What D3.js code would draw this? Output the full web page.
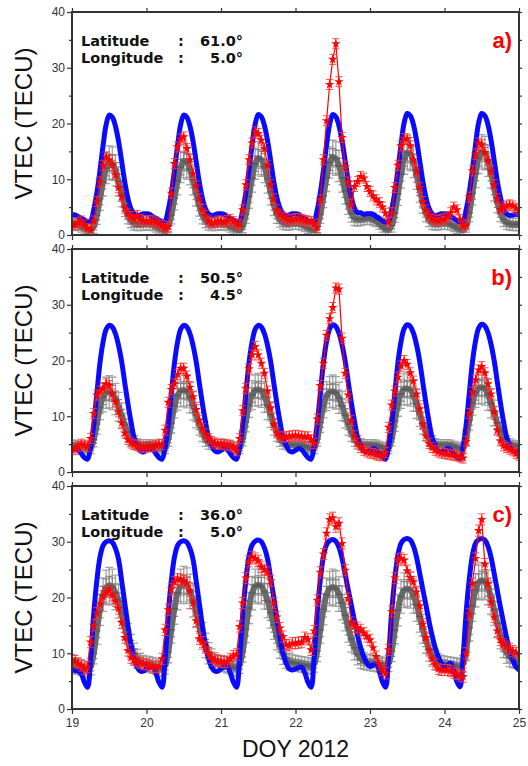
<!DOCTYPE html>
<html>
<head>
<meta charset="utf-8">
<script src="https://cdn.jsdelivr.net/npm/d3@7"></script>
<style>
  body { margin: 0; background: #fff; }
  svg { display: block; font-family: "Liberation Sans", Arial, Helvetica, sans-serif; }
</style>
</head>
<body>
<svg id="chart" width="528" height="766"></svg>
<script>
// ---- Axis ticks -----------------------------------------------------------
const dayTicks = [19, 20, 21, 22, 23, 24, 25];
const vtecTicks = [0, 10, 20, 30, 40];
const vtecMinorTicks = [5, 15, 25, 35];
const vtecRightTicks = [0, 5, 10, 15, 20, 25, 30, 35, 40];

// ---- Station descriptions -------------------------------------------------
const panelLabels = ["a)", "b)", "c)"];
const latitudes = ["61.0°", "50.5°", "36.0°"];
const longitudes = ["5.0°", "4.5°", "5.0°"];

// ---- Hourly values, DOY 19.00 ... 25.00 (145 samples, one per hour) -------
// Model VTEC (blue)
const modelA = [
  3.6, 3.6, 3.3, 3.0, 2.7, 2.4, 2.5, 4.5, 7.5, 11.5, 16.0, 19.8, 21.5, 21.1, 19.5, 16.8, 13.2, 9.5, 6.6, 4.7, 3.8, 3.5, 3.6, 3.8,
  3.8, 3.7, 3.3, 3.0, 2.7, 2.4, 2.5, 4.5, 7.5, 11.5, 16.0, 19.8, 21.5, 21.1, 19.5, 16.8, 13.2, 9.5, 6.6, 4.7, 3.8, 3.5, 3.6, 3.8,
  3.8, 3.7, 3.3, 3.0, 2.7, 2.4, 2.5, 4.5, 7.6, 11.6, 16.1, 19.9, 21.6, 21.2, 19.6, 16.9, 13.3, 9.6, 6.7, 4.8, 3.8, 3.5, 3.6, 3.8,
  3.8, 3.7, 3.3, 3.0, 2.6, 2.3, 2.5, 4.5, 7.6, 11.6, 16.1, 19.9, 21.6, 21.2, 19.6, 16.9, 13.3, 9.6, 6.7, 4.8, 4.0, 4.0, 3.7, 3.8,
  3.8, 3.7, 3.3, 3.0, 2.6, 2.3, 2.5, 4.6, 7.7, 11.7, 16.2, 20.1, 21.8, 21.4, 19.8, 17.0, 13.4, 9.7, 6.8, 4.8, 3.8, 3.5, 3.6, 3.8,
  3.8, 3.7, 3.3, 3.0, 2.6, 2.3, 2.5, 4.6, 7.7, 11.7, 16.2, 20.1, 21.8, 21.4, 19.8, 17.0, 13.4, 9.7, 6.8, 4.8, 3.8, 3.5, 3.6, 3.7,
  3.6
];
const modelB = [
  4.0, 4.1, 3.9, 3.3, 2.6, 2.3, 4.5, 8.5, 14.0, 19.5, 23.3, 25.6, 26.3, 26.0, 24.8, 22.7, 19.8, 16.0, 12.3, 9.0, 6.2, 4.8, 3.8, 3.6,
  3.9, 4.2, 4.0, 3.3, 2.6, 2.3, 4.5, 8.5, 14.0, 19.5, 23.3, 25.6, 26.3, 26.0, 24.8, 22.7, 19.8, 16.0, 12.3, 9.0, 6.2, 4.8, 3.8, 3.6,
  3.9, 4.2, 4.0, 3.3, 2.6, 2.3, 4.5, 8.5, 14.0, 19.5, 23.3, 25.6, 26.3, 26.0, 24.8, 22.7, 19.8, 16.0, 12.3, 9.0, 6.2, 4.8, 3.8, 3.6,
  3.9, 4.2, 4.0, 3.3, 2.6, 2.3, 4.6, 8.6, 14.1, 19.6, 23.4, 25.7, 26.4, 26.1, 24.9, 22.8, 19.9, 16.1, 12.4, 9.1, 6.2, 4.8, 3.8, 3.6,
  3.9, 4.2, 4.0, 3.3, 2.6, 2.3, 4.6, 8.6, 14.1, 19.6, 23.4, 25.7, 26.4, 26.1, 24.9, 22.8, 19.9, 16.1, 12.4, 9.1, 6.2, 4.8, 3.8, 3.6,
  3.9, 4.2, 4.0, 3.3, 2.6, 2.3, 4.6, 8.6, 14.2, 19.7, 23.5, 25.8, 26.5, 26.2, 25.0, 22.9, 20.0, 16.2, 12.5, 9.1, 6.3, 4.8, 3.8, 3.6,
  3.8
];
const modelC = [
  7.0, 6.9, 6.8, 6.3, 4.8, 3.9, 9.0, 17.0, 23.0, 27.2, 29.3, 30.0, 30.2, 29.9, 28.8, 26.8, 23.0, 19.0, 15.0, 11.5, 9.0, 7.5, 6.8, 6.8,
  7.2, 7.5, 7.6, 6.5, 4.8, 3.9, 9.0, 17.0, 23.0, 27.2, 29.3, 30.0, 30.2, 29.9, 28.8, 26.8, 23.0, 19.0, 15.0, 11.5, 9.0, 7.5, 6.8, 6.8,
  7.2, 7.5, 7.6, 6.5, 4.8, 3.9, 9.0, 17.0, 23.0, 27.3, 29.4, 30.1, 30.3, 30.0, 28.9, 26.9, 23.5, 20.0, 16.2, 12.8, 10.0, 8.2, 7.2, 7.0,
  7.2, 7.4, 7.5, 6.5, 4.8, 3.9, 9.2, 17.2, 23.2, 27.4, 29.5, 30.2, 30.4, 30.1, 29.0, 27.0, 24.2, 21.3, 18.6, 15.8, 13.2, 11.0, 9.4, 8.2,
  7.6, 7.9, 8.2, 6.8, 4.9, 3.9, 9.5, 17.5, 23.4, 27.6, 29.7, 30.4, 30.6, 30.3, 29.2, 27.2, 24.4, 21.5, 18.7, 15.8, 13.2, 11.0, 9.4, 8.2,
  7.6, 7.9, 8.2, 6.8, 4.9, 4.0, 9.5, 17.5, 23.4, 27.6, 29.7, 30.4, 30.6, 30.3, 29.2, 27.2, 24.3, 21.3, 18.3, 15.5, 12.8, 10.5, 8.8, 7.6,
  7.0
];

// Reference climatology mean (grey) and its spread by hour of day
const climA = [
  2.0, 2.0, 1.8, 1.5, 1.2, 1.0, 0.9, 1.5, 3.5, 6.5, 9.5, 12.0, 13.0, 12.8, 11.6, 9.6, 7.4, 5.2, 3.6, 2.6, 2.1, 1.9, 1.9, 2.0,
  2.0, 2.0, 1.8, 1.5, 1.2, 1.0, 0.9, 1.6, 3.6, 6.6, 9.7, 12.2, 13.3, 13.0, 11.8, 9.8, 7.5, 5.3, 3.6, 2.6, 2.1, 1.9, 1.9, 2.0,
  2.0, 2.0, 1.8, 1.5, 1.2, 1.0, 0.9, 1.6, 3.7, 6.9, 10.2, 12.8, 13.8, 13.5, 12.2, 10.1, 7.7, 5.4, 3.7, 2.7, 2.2, 2.0, 2.0, 2.1,
  2.1, 2.1, 1.9, 1.6, 1.3, 1.0, 0.9, 1.6, 3.7, 7.0, 10.3, 13.0, 14.0, 13.7, 12.4, 10.3, 7.9, 5.6, 3.9, 3.0, 2.8, 2.8, 2.9, 3.0,
  3.0, 2.8, 2.5, 2.0, 1.5, 1.1, 1.0, 1.7, 3.9, 7.4, 10.9, 13.7, 14.8, 14.5, 13.1, 10.8, 8.2, 5.8, 4.0, 2.8, 2.2, 2.0, 2.0, 2.1,
  2.1, 2.1, 1.9, 1.6, 1.3, 1.0, 0.9, 1.7, 4.0, 7.5, 11.0, 13.8, 15.0, 14.7, 13.3, 11.0, 8.4, 5.9, 4.0, 2.8, 2.2, 2.0, 1.9, 1.9,
  1.9
];
const climB = [
  4.8, 4.8, 4.7, 4.6, 4.4, 4.2, 4.3, 5.8, 8.6, 11.6, 13.4, 14.2, 14.4, 14.1, 13.1, 11.7, 10.1, 8.5, 7.1, 6.0, 5.3, 5.0, 4.9, 4.9,
  4.9, 4.9, 4.8, 4.6, 4.4, 4.2, 4.3, 5.9, 8.8, 11.9, 13.7, 14.5, 14.7, 14.4, 13.4, 11.9, 10.2, 8.6, 7.2, 6.0, 5.3, 5.0, 4.9, 4.9,
  4.9, 4.9, 4.8, 4.6, 4.4, 4.2, 4.3, 6.0, 9.0, 12.0, 13.8, 14.6, 14.8, 14.5, 13.5, 12.0, 10.3, 8.6, 7.2, 6.0, 5.3, 5.0, 4.9, 4.9,
  4.9, 4.9, 4.8, 4.6, 4.4, 4.2, 4.3, 5.9, 8.9, 11.9, 13.6, 14.3, 14.5, 14.2, 13.3, 11.8, 10.2, 8.6, 7.2, 6.0, 5.3, 5.0, 4.9, 4.9,
  4.9, 4.9, 4.8, 4.6, 4.4, 4.2, 4.3, 6.0, 9.1, 12.2, 14.0, 14.8, 15.0, 14.7, 13.7, 12.2, 10.5, 8.8, 7.3, 6.1, 5.3, 5.0, 4.9, 4.9,
  4.9, 4.9, 4.8, 4.6, 4.4, 4.2, 4.3, 6.1, 9.3, 12.4, 14.2, 15.0, 15.2, 14.9, 13.9, 12.3, 10.6, 8.8, 7.3, 6.1, 5.3, 5.0, 4.8, 4.7,
  4.6
];
const climC = [
  7.8, 7.7, 7.6, 7.4, 7.2, 7.0, 7.6, 10.0, 14.0, 17.8, 20.5, 21.8, 22.2, 21.9, 20.9, 19.3, 17.2, 15.0, 12.9, 11.2, 9.9, 9.0, 8.5, 8.2,
  8.1, 8.0, 7.8, 7.6, 7.4, 7.2, 7.8, 10.2, 14.2, 18.0, 20.8, 22.0, 22.4, 22.1, 21.1, 19.5, 17.4, 15.2, 13.1, 11.4, 10.0, 9.1, 8.6, 8.3,
  8.2, 8.1, 7.9, 7.7, 7.5, 7.3, 7.9, 10.3, 14.3, 18.1, 20.8, 22.0, 22.3, 22.0, 21.0, 19.4, 17.3, 15.1, 13.0, 11.3, 9.9, 9.0, 8.5, 8.3,
  8.2, 8.1, 8.0, 7.9, 7.8, 7.6, 8.1, 10.4, 14.2, 17.9, 20.5, 21.6, 21.9, 21.6, 20.6, 19.0, 16.8, 14.6, 12.6, 11.0, 9.8, 9.0, 8.6, 8.4,
  8.3, 8.2, 8.1, 8.0, 7.9, 7.7, 8.2, 10.4, 14.1, 17.7, 20.2, 21.3, 21.6, 21.3, 20.3, 18.7, 16.6, 14.4, 12.4, 10.8, 9.6, 8.8, 8.4, 8.2,
  8.1, 8.0, 7.9, 7.8, 7.7, 7.5, 8.1, 10.6, 14.6, 18.5, 21.3, 22.7, 23.1, 22.8, 21.8, 20.0, 17.8, 15.4, 13.2, 11.4, 10.1, 9.3, 8.9, 8.7,
  8.6
];
const climSdA = [1.1, 1.1, 1.0, 1.0, 1.0, 1.0, 1.0, 1.2, 1.6, 2.1, 2.5, 2.8, 3.0, 3.0, 2.8, 2.6, 2.3, 1.9, 1.6, 1.3, 1.2, 1.1, 1.1, 1.1];
const climSdB = [0.9, 0.9, 0.9, 0.9, 0.9, 0.9, 1.0, 1.3, 1.8, 2.2, 2.6, 2.8, 2.9, 2.9, 2.8, 2.6, 2.3, 2.0, 1.7, 1.4, 1.2, 1.0, 0.9, 0.9];
const climSdC = [1.4, 1.4, 1.4, 1.4, 1.4, 1.4, 1.5, 1.9, 2.4, 2.8, 3.0, 3.1, 3.2, 3.2, 3.1, 3.0, 2.8, 2.6, 2.4, 2.2, 1.9, 1.7, 1.5, 1.4];

// Observed GNSS VTEC (red) and its uncertainty
const obsA = [
  2.0, 1.8, 2.2, 2.5, 1.8, 1.2, 0.9, 2.5, 6.0, 9.5, 12.5, 14.0, 13.5, 12.5, 10.8, 8.5, 6.9, 4.8, 3.8, 3.3, 2.8, 3.5, 2.8, 2.6,
  2.5, 2.6, 2.5, 2.3, 2.0, 1.7, 1.2, 1.5, 7.5, 12.8, 15.8, 17.2, 17.6, 15.5, 13.5, 11.0, 8.8, 6.5, 4.6, 3.5, 2.5, 2.1, 2.3, 2.5,
  2.5, 2.3, 2.6, 2.8, 2.4, 2.0, 1.8, 4.5, 9.0, 13.5, 16.5, 18.5, 18.2, 17.0, 15.5, 12.5, 9.0, 6.5, 4.5, 3.6, 3.2, 2.9, 2.7, 2.8,
  2.9, 3.0, 2.8, 2.6, 2.5, 2.4, 2.0, 1.3, 6.3, 13.5, 20.5, 27.0, 31.5, 34.3, 27.5, 17.5, 12.3, 9.5, 5.5, 8.7, 9.6, 10.5, 10.2, 8.7,
  7.8, 7.0, 6.3, 5.8, 5.0, 3.9, 2.3, 4.0, 8.5, 12.5, 16.0, 17.3, 17.2, 16.0, 13.5, 11.5, 8.5, 6.0, 4.5, 3.4, 2.9, 2.7, 2.6, 2.8,
  2.9, 3.2, 4.0, 5.0, 4.5, 2.8, 1.6, 1.8, 6.8, 11.5, 14.5, 16.5, 16.2, 14.8, 13.3, 11.5, 9.0, 6.5, 4.6, 5.0, 5.2, 5.4, 5.2, 4.8,
  4.5
];
const obsB = [
  4.3, 4.0, 4.6, 5.0, 4.8, 4.6, 6.0, 10.5, 13.8, 14.5, 15.0, 15.8, 15.5, 14.0, 12.6, 10.8, 8.8, 7.0, 5.8, 5.2, 4.9, 4.7, 4.5, 4.4,
  4.5, 4.6, 4.5, 4.8, 5.0, 4.9, 7.5, 12.5, 14.8, 15.8, 17.5, 18.6, 18.6, 17.2, 15.2, 13.5, 11.2, 9.2, 7.8, 6.8, 6.0, 5.5, 5.2, 5.0,
  5.0, 5.0, 4.8, 4.8, 4.5, 3.8, 6.0, 11.0, 15.0, 18.5, 21.0, 22.5, 21.0, 19.5, 17.7, 14.5, 11.5, 8.5, 7.0, 6.4, 6.3, 6.3, 6.4, 6.5,
  6.6, 6.5, 6.4, 6.3, 6.3, 5.8, 5.1, 9.5, 15.5, 19.5, 24.5, 27.5, 29.5, 33.0, 32.8, 24.0, 17.7, 13.8, 9.2, 6.5, 5.2, 4.4, 3.9, 3.6,
  3.4, 3.3, 3.1, 3.0, 2.9, 3.5, 8.0, 12.0, 14.5, 17.0, 19.0, 20.0, 19.3, 17.8, 16.3, 14.0, 11.3, 8.5, 6.5, 5.1, 4.4, 3.9, 3.6, 3.4,
  3.3, 3.2, 3.1, 3.0, 2.9, 2.7, 2.5, 5.5, 10.5, 14.3, 16.5, 18.3, 18.9, 17.8, 15.8, 14.0, 10.8, 7.5, 5.6, 4.7, 4.4, 4.1, 3.8, 3.3,
  3.0
];
const obsC = [
  8.8, 8.6, 8.2, 7.8, 7.2, 7.5, 12.0, 15.0, 17.2, 18.8, 20.2, 21.0, 21.3, 20.4, 19.4, 18.0, 15.5, 12.8, 10.5, 9.2, 8.8, 8.5, 8.3, 8.1,
  8.0, 7.8, 7.6, 7.5, 7.6, 9.0, 14.2, 17.8, 21.5, 22.8, 23.3, 23.2, 23.0, 22.6, 21.2, 19.0, 15.8, 12.6, 12.0, 11.0, 10.0, 9.2, 8.8, 8.6,
  8.5, 8.4, 8.5, 9.0, 9.5, 9.8, 14.8, 19.0, 23.5, 26.5, 27.3, 27.0, 26.6, 25.5, 25.0, 24.5, 23.0, 19.0, 16.5, 14.5, 13.0, 11.5, 11.4, 11.8,
  11.8, 11.9, 12.0, 12.8, 12.5, 10.6, 14.0, 19.5, 24.5, 27.8, 31.5, 34.0, 34.3, 32.7, 33.3, 29.7, 24.9, 19.8, 15.5, 14.8, 14.6, 14.2, 13.6, 13.0,
  12.4, 11.0, 9.4, 8.0, 7.0, 6.4, 10.6, 17.5, 23.5, 26.8, 27.0, 26.7, 24.8, 23.6, 22.8, 21.0, 18.5, 15.2, 12.8, 10.5, 9.0, 8.0, 7.2, 7.0,
  7.0, 7.0, 6.8, 6.5, 6.3, 6.0, 5.8, 10.0, 17.0, 22.5, 27.0, 32.0, 34.0, 26.0, 22.5, 19.2, 16.5, 14.0, 12.4, 11.6, 11.2, 10.8, 10.4, 10.1,
  10.0
];
const obsSigma = [0.9, 0.9, 1.0];

// ---- Layout -----------------------------------------------------------------
const plotLeft = 72, plotRight = 519;
const panelTop = [12, 249, 486];
const panelH = 223;
const ink = "#333";

const svg = d3.select("#chart");
const x = d3.scaleLinear().domain([19, 25]).range([plotLeft, plotRight]);
const timeOf = i => 19 + i / 24;

const panels = [
  { label: panelLabels[0], lat: latitudes[0], lon: longitudes[0], model: modelA, clim: climA, climSd: climSdA, obs: obsA, obsSd: obsSigma[0] },
  { label: panelLabels[1], lat: latitudes[1], lon: longitudes[1], model: modelB, clim: climB, climSd: climSdB, obs: obsB, obsSd: obsSigma[1] },
  { label: panelLabels[2], lat: latitudes[2], lon: longitudes[2], model: modelC, clim: climC, climSd: climSdC, obs: obsC, obsSd: obsSigma[2] }
];

const defs = svg.append("defs");

panels.forEach((p, k) => {
  const top = panelTop[k];
  const y = d3.scaleLinear().domain([0, 40]).range([top + panelH, top]);
  const g = svg.append("g");

  defs.append("clipPath").attr("id", "plot-clip-" + k)
    .append("rect").attr("x", plotLeft).attr("y", top)
    .attr("width", plotRight - plotLeft).attr("height", panelH);

  const area = g.append("g").attr("clip-path", `url(#plot-clip-${k})`);

  // Error bar with horizontal caps
  const errPath = (t, v, s, cap) => {
    const cx = x(t), y1 = y(v + s), y0 = y(v - s);
    return `M${cx - cap},${y1}H${cx + cap}M${cx},${y1}V${y0}M${cx - cap},${y0}H${cx + cap}`;
  };

  // Climatology: grey error bars with a dark grey centre band
  const clim = p.clim.map((v, i) => ({ t: timeOf(i), v, s: p.climSd[i % 24] }));
  area.append("g").selectAll("path").data(clim).join("path")
    .attr("d", d => errPath(d.t, d.v, d.s, 4))
    .attr("fill", "none").attr("stroke", "#9a9a9a").attr("stroke-width", 1.3)
    .attr("stroke-opacity", 0.9);
  area.append("g").selectAll("path").data(clim).join("path")
    .attr("d", d => errPath(d.t, d.v, d.s * 0.5, 3.5))
    .attr("fill", "none").attr("stroke", "#858585").attr("stroke-width", 1.2);
  area.append("path").datum(clim)
    .attr("d", d3.line().x(d => x(d.t)).y(d => y(d.v)).curve(d3.curveCatmullRom))
    .attr("fill", "none").attr("stroke", "#6a6a6a").attr("stroke-width", 6)
    .attr("stroke-linejoin", "round");
  area.append("g").selectAll("path").data(clim).join("path")
    .attr("d", d => `M${x(d.t) - 3.5},${y(d.v)}H${x(d.t) + 3.5}`)
    .attr("stroke", "#5a5a5a").attr("stroke-width", 1.4);

  // Model: thick blue curve
  const model = p.model.map((v, i) => ({ t: timeOf(i), v }));
  area.append("path").datum(model)
    .attr("d", d3.line().x(d => x(d.t)).y(d => y(d.v)).curve(d3.curveCatmullRom))
    .attr("fill", "none").attr("stroke", "#0a0aff").attr("stroke-width", 5)
    .attr("stroke-linejoin", "round").attr("stroke-linecap", "round");

  // Observations: red line, error bars and star markers
  const obs = p.obs.map((v, i) => ({ t: timeOf(i), v, s: p.obsSd }));
  area.append("path").datum(obs)
    .attr("d", d3.line().x(d => x(d.t)).y(d => y(d.v)))
    .attr("fill", "none").attr("stroke", "#ff0000").attr("stroke-width", 1.2);
  area.append("g").selectAll("path").data(obs).join("path")
    .attr("d", d => errPath(d.t, d.v, d.s, 3.5))
    .attr("fill", "none").attr("stroke", "#ff3030").attr("stroke-width", 1)
    .attr("stroke-opacity", 0.85);
  const star = d3.symbol().type(d3.symbolStar).size(28);
  area.append("g").selectAll("path").data(obs).join("path")
    .attr("transform", d => `translate(${x(d.t)},${y(d.v)})`)
    .attr("d", star).attr("fill", "#ff0000");

  // Axes
  const styleAxis = sel => {
    sel.select(".domain").remove();
    sel.selectAll(".tick line").attr("stroke", ink).attr("stroke-width", 1.2);
    sel.selectAll(".tick text").attr("fill", ink).attr("font-size", 12)
      .attr("font-family", "'Liberation Sans', Arial, sans-serif");
  };
  g.append("g").attr("transform", `translate(${plotLeft},0)`)
    .call(d3.axisLeft(y).tickValues(vtecTicks).tickSize(5).tickPadding(2))
    .call(styleAxis);
  g.append("g").attr("transform", `translate(${plotLeft},0)`)
    .call(d3.axisLeft(y).tickValues(vtecMinorTicks).tickSize(3).tickFormat(""))
    .call(styleAxis);
  g.append("g").attr("transform", `translate(${plotRight},0)`)
    .call(d3.axisRight(y).tickValues(vtecRightTicks).tickSize(3).tickFormat(""))
    .call(styleAxis);
  g.append("g").attr("transform", `translate(0,${top})`)
    .call(d3.axisTop(x).tickValues(dayTicks).tickSize(4).tickFormat(""))
    .call(styleAxis);
  g.append("g").attr("transform", `translate(0,${top + panelH})`)
    .call(d3.axisBottom(x).tickValues(dayTicks).tickSize(5).tickPadding(4)
      .tickFormat(k === panels.length - 1 ? d3.format("d") : ""))
    .call(styleAxis);

  // Frame
  g.append("rect").attr("x", plotLeft).attr("y", top)
    .attr("width", plotRight - plotLeft).attr("height", panelH)
    .attr("fill", "none").attr("stroke", ink).attr("stroke-width", 2);

  // Station coordinates
  const info = g.append("g").attr("font-weight", "bold").attr("font-size", 14.5)
    .attr("font-family", "'DejaVu Sans', sans-serif").attr("fill", "#111");
  [["Latitude", p.lat, 34], ["Longitude", p.lon, 51]].forEach(([name, val, dy]) => {
    info.append("text").attr("x", 81).attr("y", top + dy).text(name);
    info.append("text").attr("x", 178).attr("y", top + dy).text(":");
    info.append("text").attr("x", 243).attr("y", top + dy).attr("text-anchor", "end").text(val);
  });

  // Panel letter
  g.append("text").attr("x", 512).attr("y", top + 36)
    .attr("text-anchor", "end").attr("font-weight", "bold").attr("font-size", 22)
    .attr("fill", "#ff0000").text(p.label);

  // Y-axis title
  g.append("text")
    .attr("transform", `translate(32,${top + panelH / 2}) rotate(-90)`)
    .attr("text-anchor", "middle").attr("font-size", 24).attr("fill", "#111")
    .text("VTEC (TECU)");
});

// X-axis title
svg.append("text").attr("x", (plotLeft + plotRight) / 2).attr("y", 757)
  .attr("text-anchor", "middle").attr("font-size", 23).attr("fill", "#111")
  .text("DOY 2012");
</script>
</body>
</html>
